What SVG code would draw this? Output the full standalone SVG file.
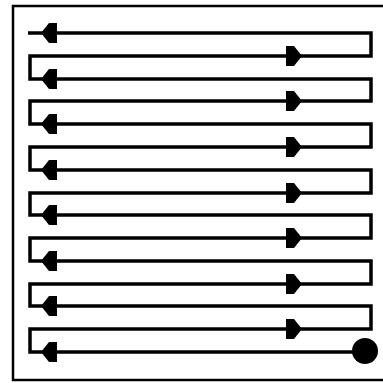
<svg xmlns="http://www.w3.org/2000/svg" xmlns:xlink="http://www.w3.org/1999/xlink" width="383" height="383" viewBox="0 0 383 383">
<style>
.frame{fill:none;stroke:#000;stroke-width:2.5}
.line{fill:none;stroke:#000;stroke-width:3.5;stroke-linejoin:miter}
.head{fill:#000}
</style>
<defs>
<polygon id="la" class="head" points="-15,0 -7,-10 1,-10 1,10 -7,10"/>
<polygon id="ra" class="head" points="16,0 8,-10 0,-10 0,10 8,10"/>
</defs>
<rect width="383" height="383" fill="#fff"/>
<rect id="frame" class="frame" x="13" y="6" width="380" height="374"/>
<g id="connectors">
<path class="line" d="M28,33 H371 V56 H30 V79 H371 V101 H30 V124 H371 V147 H30 V170 H371 V193 H30 V215 H371 V238 H30 V261 H371 V284 H30 V306 H371 V329 H30 V352 H365"/>
<use xlink:href="#la" x="56" y="33"/>
<use xlink:href="#la" x="56" y="79"/>
<use xlink:href="#la" x="56" y="124"/>
<use xlink:href="#la" x="56" y="170"/>
<use xlink:href="#la" x="56" y="215"/>
<use xlink:href="#la" x="56" y="261"/>
<use xlink:href="#la" x="56" y="306"/>
<use xlink:href="#la" x="56" y="352"/>
<use xlink:href="#ra" x="286" y="56"/>
<use xlink:href="#ra" x="286" y="101"/>
<use xlink:href="#ra" x="286" y="147"/>
<use xlink:href="#ra" x="286" y="193"/>
<use xlink:href="#ra" x="286" y="238"/>
<use xlink:href="#ra" x="286" y="284"/>
<use xlink:href="#ra" x="286" y="329"/>
</g>
<g id="start">
<circle cx="365" cy="351" r="13" fill="#000"/>
</g>
</svg>
